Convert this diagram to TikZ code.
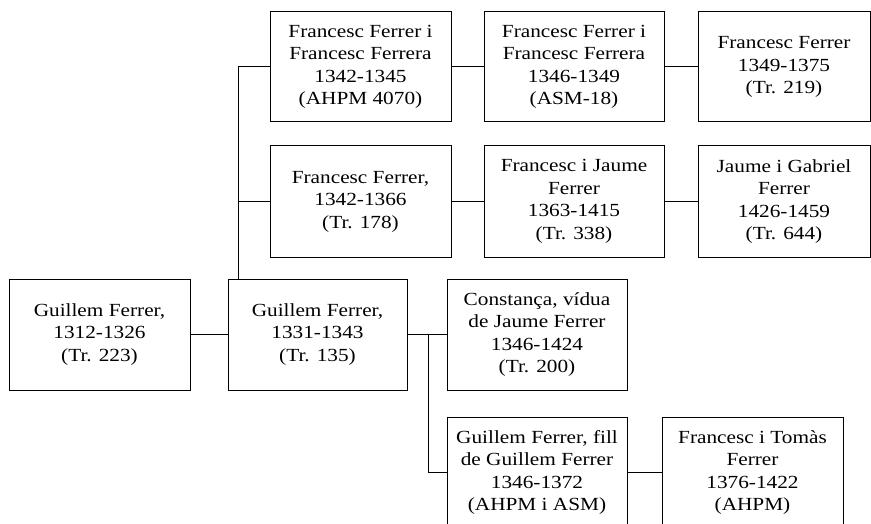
\documentclass[tikz,border=0pt]{standalone}
\usepackage{fontspec}
\setmainfont{Liberation Serif}[FakeStretch=1.15]
\begin{document}
\begin{tikzpicture}[x=1pt,y=-1pt,
  box/.style={draw, line width=1pt, inner sep=0pt, align=center,
    font=\fontsize{18.5}{22.5}\selectfont, minimum height=111pt},
  link/.style={line width=1pt}]
\useasboundingbox (0,0) rectangle (871,524);
\node[box, minimum width=181pt] (A) at (99.5,334.5) {Guillem Ferrer,\\1312-1326\\(Tr. 223)};
\node[box, minimum width=179pt] (B) at (317.5,334.5) {Guillem Ferrer,\\1331-1343\\(Tr. 135)};
\node[box, minimum width=181pt, minimum height=110pt] (C1) at (360.5,67) {Francesc Ferrer i\\Francesc Ferrera\\1342-1345\\(AHPM 4070)};
\node[box, minimum width=181pt] (C2) at (360.5,201.5) {Francesc Ferrer,\\1342-1366\\(Tr. 178)};
\node[box, minimum width=180pt, minimum height=110pt] (D1) at (574,67) {Francesc Ferrer i\\Francesc Ferrera\\1346-1349\\(ASM-18)};
\node[box, minimum width=180pt] (D2) at (574,201.5) {Francesc i Jaume\\Ferrer\\1363-1415\\(Tr. 338)};
\node[box, minimum width=172pt, minimum height=110pt] (E1) at (784,67) {Francesc Ferrer\\1349-1375\\(Tr. 219)};
\node[box, minimum width=172pt] (E2) at (784,201.5) {Jaume i Gabriel\\Ferrer\\1426-1459\\(Tr. 644)};
\node[box, minimum width=180pt] (F1) at (537,334.5) {Constança, vídua\\de Jaume Ferrer\\1346-1424\\(Tr. 200)};
\node[box, minimum width=180pt] (F2) at (537,472.5) {Guillem Ferrer, fill\\de Guillem Ferrer\\1346-1372\\(AHPM i ASM)};
\node[box, minimum width=181pt] (G) at (752.5,472.5) {Francesc i Tomàs\\Ferrer\\1376-1422\\(AHPM)};
\coordinate (t) at (238,0);
\coordinate (u) at (428,0);
\draw[link] (A.east) -- (B.west);
\draw[link] (C1.west) -- (t |- C1.west) -- (t |- B.north);
\draw[link] (C2.west) -- (t |- C2.west);
\draw[link] (C1.east) -- (D1.west);
\draw[link] (D1.east) -- (E1.west);
\draw[link] (C2.east) -- (D2.west);
\draw[link] (D2.east) -- (E2.west);
\draw[link] (B.east) -- (F1.west);
\draw[link] (u |- F1.west) -- (u |- F2.west) -- (F2.west);
\draw[link] (F2.east) -- (G.west);
\end{tikzpicture}
\end{document}
